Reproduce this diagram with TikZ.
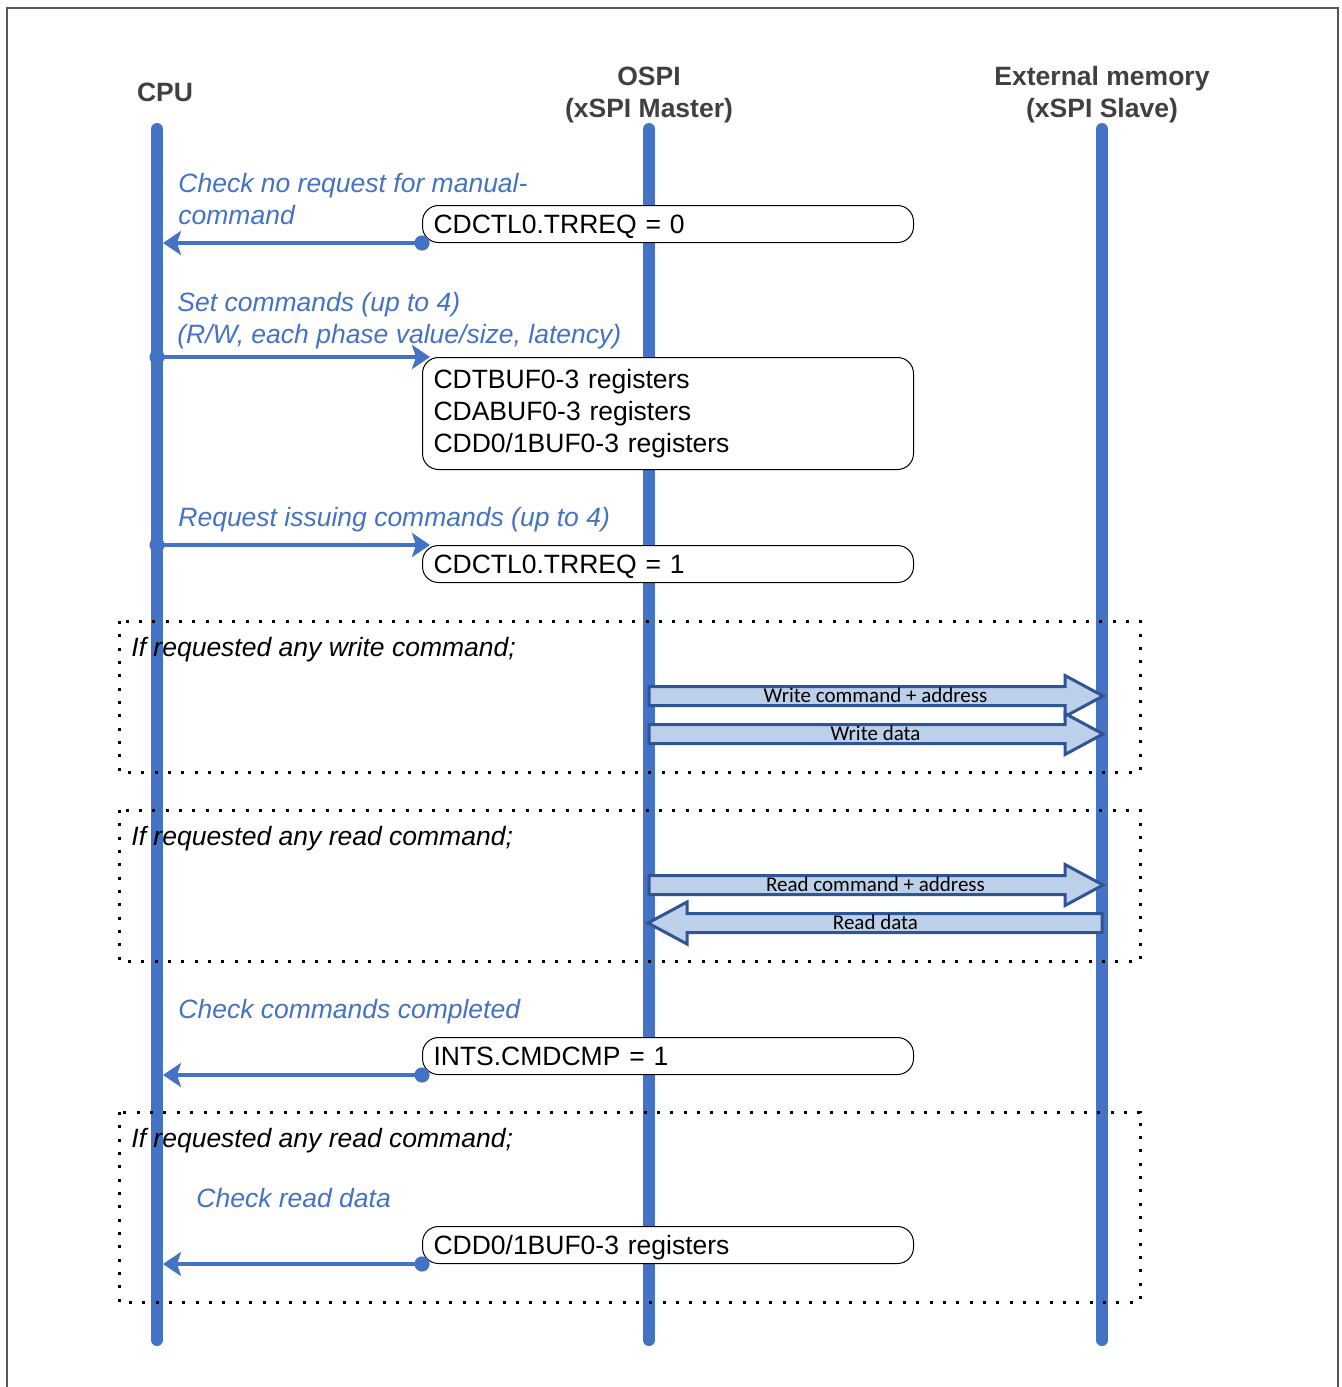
\documentclass[tikz,border=0pt]{standalone}
\usepackage{fontspec}
\setmainfont{Liberation Sans}
\newfontfamily\calfont{Carlito}
\usetikzlibrary{arrows.meta}
\definecolor{lifeblue}{HTML}{4472C4}
\definecolor{blkfill}{HTML}{BDD0E9}
\definecolor{blkdraw}{HTML}{2F5597}
\definecolor{hdrgray}{HTML}{404040}
\definecolor{framegray}{HTML}{555555}
\begin{document}
\begin{tikzpicture}[x=0.5pt,y=-0.5pt,
  lifeline/.style={lifeblue, line width=6pt, line cap=round},
  regbox/.style={draw=black, line width=0.5pt, fill=white, rounded corners=8pt, anchor=north west, text width=234.5pt, inner xsep=5.5pt, inner ysep=0pt, align=left, font=\fontsize{13.25}{16}\selectfont},
  onel/.style={minimum height=18.5pt, text height=9.5pt, text depth=0pt},
  hdr/.style={font=\fontsize{13.25}{16}\selectfont\bfseries, text=hdrgray, anchor=base, inner sep=0pt},
  bluelbl/.style={font=\fontsize{13.25}{16}\selectfont\itshape, text=lifeblue, anchor=base west, inner sep=0pt},
  condlbl/.style={font=\fontsize{13.25}{16}\selectfont\itshape, text=black, anchor=base west, inner sep=0pt},
  msg/.style={lifeblue, line width=2pt, -{Stealth[length=9pt,width=12pt,inset=2pt]}},
  dotbox/.style={black, line width=1.5pt, dash pattern=on 1.5pt off 5.17pt},
  blk/.style={draw=blkdraw, fill=blkfill, line width=1.5pt, line join=miter},
  blklbl/.style={font=\calfont\fontsize{10.5}{12}\selectfont, inner sep=0pt, text height=6.8pt, text depth=0pt},
]
\useasboundingbox (0,0) rectangle (1341,1387);
\fill[white] (0,0) rectangle (1341,1387);
\draw[framegray, line width=1pt] (7,1387) -- (7,8) -- (1338,8) -- (1338,1387);

% lifelines
\coordinate (cpuT) at (157,129); \coordinate (cpuB) at (157,1340);
\coordinate (ospiT) at (649,129); \coordinate (ospiB) at (649,1340);
\coordinate (extT) at (1102,129); \coordinate (extB) at (1102,1340);
\draw[lifeline] (cpuT) -- (cpuB);
\draw[lifeline] (ospiT) -- (ospiB);
\draw[lifeline] (extT) -- (extB);

% headers
\node[hdr] (hcpu) at (165,101) {CPU};
\node[hdr] (hospi1) at (649,85) {OSPI};
\node[hdr] (hospi2) at (649,117) {(xSPI Master)};
\node[hdr] (hext1) at (1102,85) {External memory};
\node[hdr] (hext2) at (1102,117) {(xSPI Slave)};

% dotted condition frames
\draw[dotbox] (119,621) rectangle (1140,772);
\draw[dotbox] (119,810) rectangle (1140,961);
\draw[dotbox] (119,1112) rectangle (1140,1302);

% block arrows
\draw[blk] (649,686.5) -- (1065,686.5) -- (1065,675.5) -- (1103,696) -- (1065,716.5) -- (1065,705.5) -- (649,705.5) -- cycle;
\node[blklbl] (wca) at (875.5,696) {Write command + address};
\draw[blk] (649,724.5) -- (1065,724.5) -- (1065,713.5) -- (1103,734) -- (1065,754.5) -- (1065,743.5) -- (649,743.5) -- cycle;
\node[blklbl] (wd) at (875.5,734) {Write data};
\draw[blk] (649,875.5) -- (1065,875.5) -- (1065,864.5) -- (1103,885) -- (1065,905.5) -- (1065,894.5) -- (649,894.5) -- cycle;
\node[blklbl] (rca) at (875.5,885) {Read command + address};
\draw[blk] (1102,913.5) -- (687,913.5) -- (687,902) -- (648,923) -- (687,944) -- (687,932.5) -- (1102,932.5) -- cycle;
\node[blklbl] (rd) at (875.5,923) {Read data};

% register boxes
\node[regbox, onel] (b1) at (422,205) {CDCTL0.TRREQ = 0};
\node[regbox, minimum height=56pt] (b2) at (422,357) {CDTBUF0-3 registers\\CDABUF0-3 registers\\CDD0/1BUF0-3 registers};
\node[regbox, onel] (b3) at (422,545) {CDCTL0.TRREQ = 1};
\node[regbox, onel] (b4) at (422,1037) {INTS.CMDCMP = 1};
\node[regbox, onel] (b5) at (422,1226) {CDD0/1BUF0-3 registers};

% messages
\fill[lifeblue] (b1.south west) circle (3.8pt);
\draw[msg, shorten >=3pt] (b1.south west) -- (b1.south west -| cpuT);
\fill[lifeblue] (b2.north west -| cpuT) circle (3.8pt);
\draw[msg] (b2.north west -| cpuT) -- ([xshift=4pt]b2.north west);
\fill[lifeblue] (b3.north west -| cpuT) circle (3.8pt);
\draw[msg] (b3.north west -| cpuT) -- ([xshift=4pt]b3.north west);
\fill[lifeblue] (b4.south west) circle (3.8pt);
\draw[msg, shorten >=3pt] (b4.south west) -- (b4.south west -| cpuT);
\fill[lifeblue] (b5.south west) circle (3.8pt);
\draw[msg, shorten >=3pt] (b5.south west) -- (b5.south west -| cpuT);

% labels
\node[bluelbl] (l1a) at (178,192) {Check no request for manual-};
\node[bluelbl] (l1b) at (178,224) {command};
\node[bluelbl] (l2a) at (177,311) {Set commands (up to 4)};
\node[bluelbl] (l2b) at (177,343) {(R/W, each phase value/size, latency)};
\node[bluelbl] (l3) at (178,526) {Request issuing commands (up to 4)};
\node[condlbl] (c1) at (131,656) {If requested any write command;};
\node[condlbl] (c2) at (131,845) {If requested any read command;};
\node[bluelbl] (l4) at (178,1018) {Check commands completed};
\node[condlbl] (c3) at (131,1147) {If requested any read command;};
\node[bluelbl] (l5) at (196,1207) {Check read data};
\end{tikzpicture}
\end{document}
